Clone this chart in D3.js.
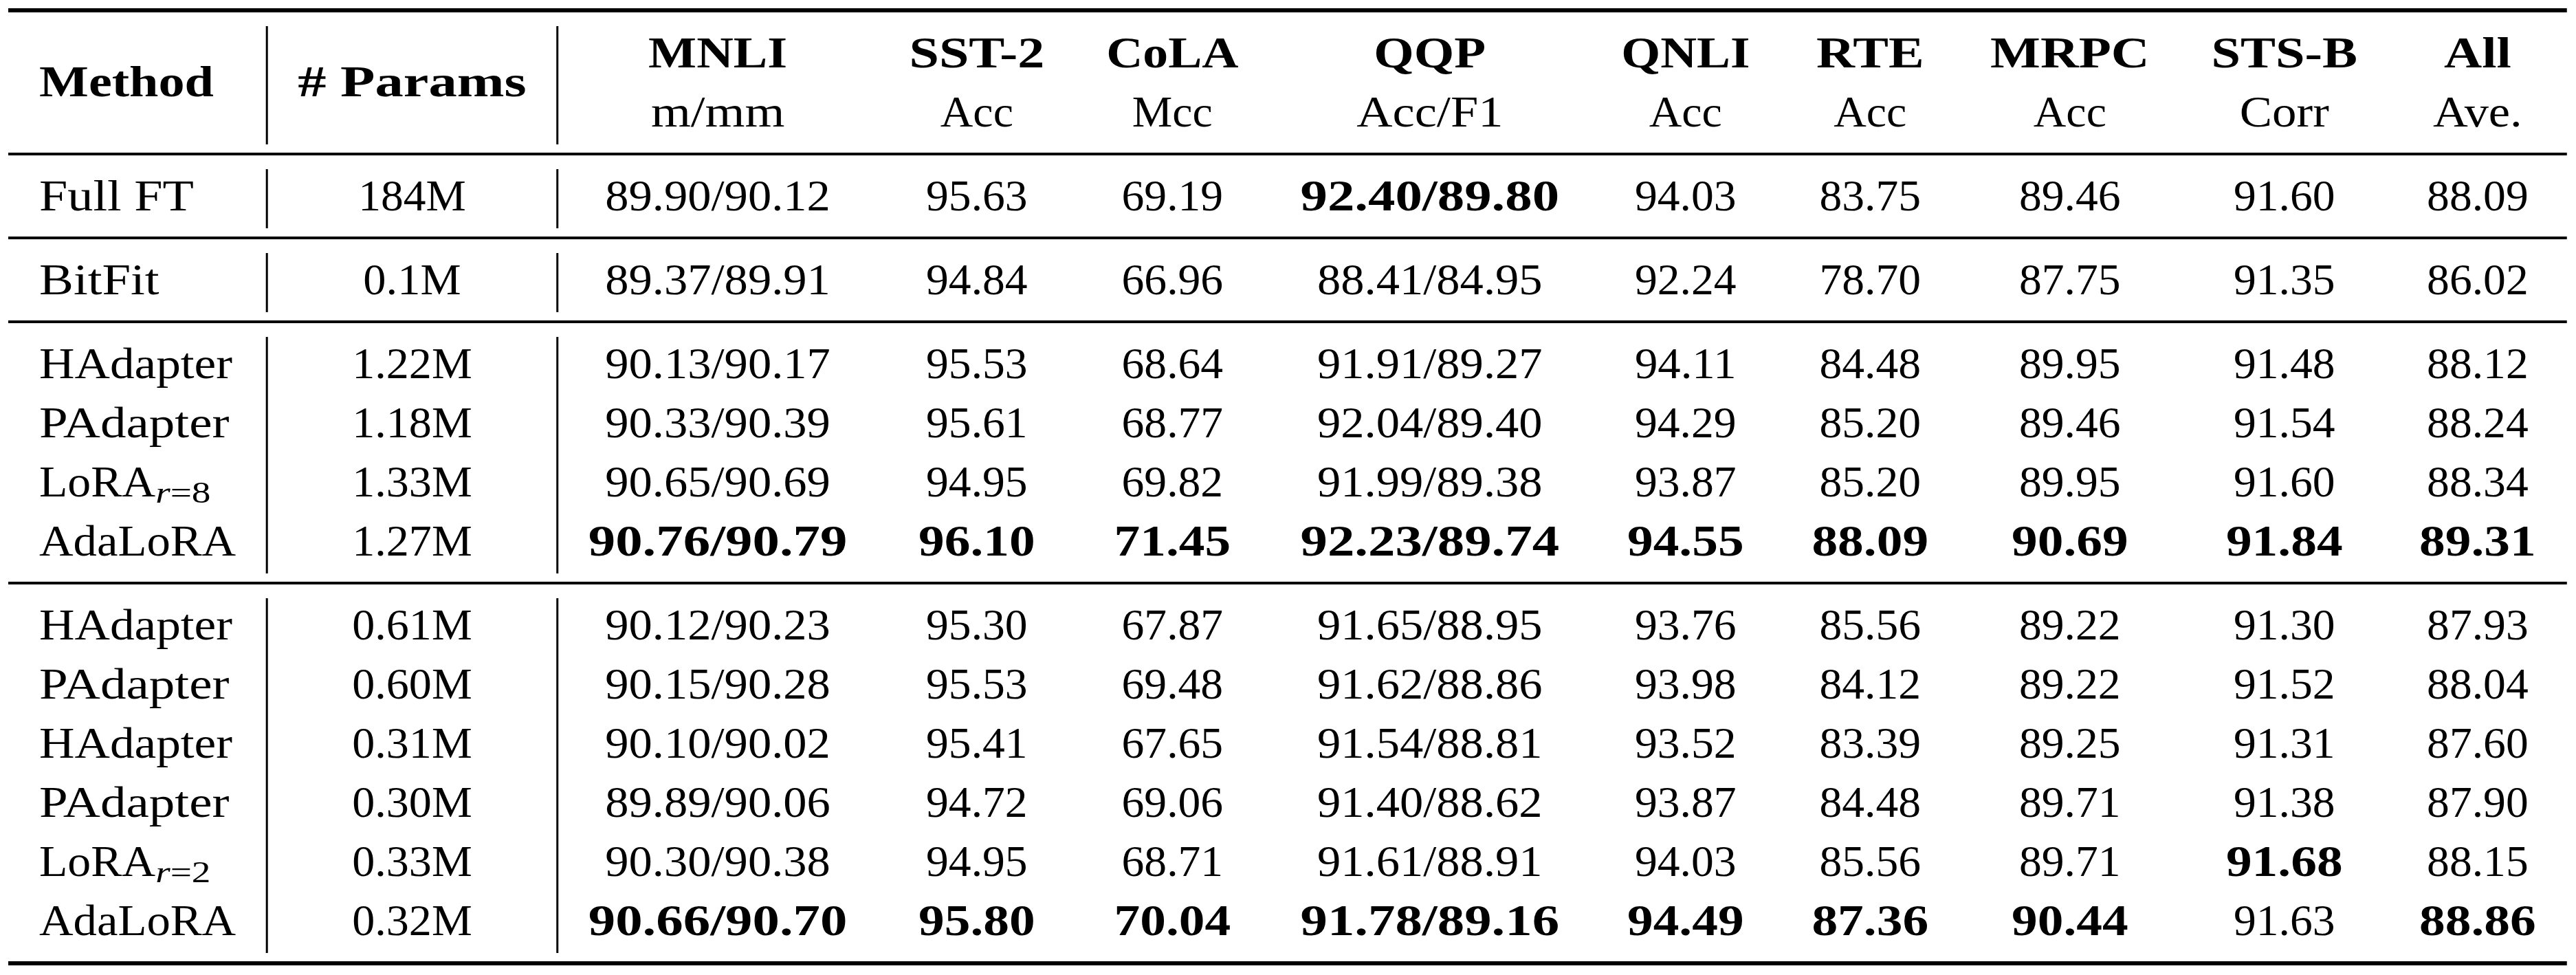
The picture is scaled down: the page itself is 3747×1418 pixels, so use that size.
<!DOCTYPE html>
<html>
<head>
<meta charset="utf-8">
<script src="https://cdn.jsdelivr.net/npm/d3@7"></script>
<style>
  body { margin: 0; background: #fff; }
  svg text { font-family: "Liberation Serif", "DejaVu Serif", serif; fill: #000; }
</style>
</head>
<body>
<div id="table"></div>
<script>
// ---- data ----
const methods = ["Full FT", "BitFit", "HAdapter", "PAdapter", "LoRA", "AdaLoRA",
                 "HAdapter", "PAdapter", "HAdapter", "PAdapter", "LoRA", "AdaLoRA"]
const methodSub = [null, null, null, null, "r=8", null, null, null, null, null, "r=2", null]
const params = ["184M", "0.1M", "1.22M", "1.18M", "1.33M", "1.27M",
                "0.61M", "0.60M", "0.31M", "0.30M", "0.33M", "0.32M"]

const mnli = [[89.90, 90.12], [89.37, 89.91], [90.13, 90.17], [90.33, 90.39], [90.65, 90.69], [90.76, 90.79],
              [90.12, 90.23], [90.15, 90.28], [90.10, 90.02], [89.89, 90.06], [90.30, 90.38], [90.66, 90.70]]
const sst2 = [95.63, 94.84, 95.53, 95.61, 94.95, 96.10, 95.30, 95.53, 95.41, 94.72, 94.95, 95.80]
const cola = [69.19, 66.96, 68.64, 68.77, 69.82, 71.45, 67.87, 69.48, 67.65, 69.06, 68.71, 70.04]
const qqp = [[92.40, 89.80], [88.41, 84.95], [91.91, 89.27], [92.04, 89.40], [91.99, 89.38], [92.23, 89.74],
             [91.65, 88.95], [91.62, 88.86], [91.54, 88.81], [91.40, 88.62], [91.61, 88.91], [91.78, 89.16]]
const qnli = [94.03, 92.24, 94.11, 94.29, 93.87, 94.55, 93.76, 93.98, 93.52, 93.87, 94.03, 94.49]
const rte = [83.75, 78.70, 84.48, 85.20, 85.20, 88.09, 85.56, 84.12, 83.39, 84.48, 85.56, 87.36]
const mrpc = [89.46, 87.75, 89.95, 89.46, 89.95, 90.69, 89.22, 89.22, 89.25, 89.71, 89.71, 90.44]
const stsb = [91.60, 91.35, 91.48, 91.54, 91.60, 91.84, 91.30, 91.52, 91.31, 91.38, 91.68, 91.63]
const avg = [88.09, 86.02, 88.12, 88.24, 88.34, 89.31, 87.93, 88.04, 87.60, 87.90, 88.15, 88.86]

const taskKeys = ["mnli", "sst2", "cola", "qqp", "qnli", "rte", "mrpc", "stsb", "avg"]
const taskNames = ["MNLI", "SST-2", "CoLA", "QQP", "QNLI", "RTE", "MRPC", "STS-B", "All"]
const metricNames = ["m/mm", "Acc", "Mcc", "Acc/F1", "Acc", "Acc", "Acc", "Corr", "Ave."]

// rows per block between the rules
const groupSizes = [1, 1, 4, 6]

// bold cells: [row, column]
const bestCells = [
  [0, "qqp"],
  [5, "mnli"], [5, "sst2"], [5, "cola"], [5, "qqp"], [5, "qnli"], [5, "rte"], [5, "mrpc"], [5, "stsb"], [5, "avg"],
  [10, "stsb"],
  [11, "mnli"], [11, "sst2"], [11, "cola"], [11, "qqp"], [11, "qnli"], [11, "rte"], [11, "mrpc"], [11, "avg"]
]

// ---- layout ----
const svgWidth = 3747
const svgHeight = 1418
const FS = 64.8          // em size used for widths (computer modern metrics)
const RENDER_FS = 63     // font size of the drawn glyphs
const pad = 45
const tableLeft = 12
const tableTop = 12
const heavy = 6, light = 4
const firstGap = 80, pitch = 86, lastGap = 38

// computer modern advance widths (em)
const CMR = {".": .2778, "/": .5, " ": .3333, "#": .8333, "M": .9167, "A": .75, "B": .7083, "C": .7222,
  "F": .6528, "H": .75, "L": .625, "P": .6806, "R": .7361, "T": .7222, "a": .5, "c": .4444, "d": .5556,
  "e": .4444, "i": .2778, "l": .2778, "m": .8333, "o": .5, "p": .5556, "r": .3917, "t": .3889, "u": .5556, "v": .5278}
const CMBX = {".": .3194, "/": .575, " ": .3833, "#": .9583, "-": .3833, "A": .8694, "B": .8181, "C": .8306,
  "E": .7556, "I": .4361, "L": .6917, "M": 1.0917, "N": .8972, "P": .7861, "Q": .8639, "R": .8625, "S": .6389,
  "T": .8, "a": .559, "d": .6389, "e": .5271, "h": .6389, "l": .3194, "m": .9583, "o": .575, "r": .4736,
  "s": .4542, "t": .4472}
const SUBW = {"r": .48, "=": .76}

function cmWidth(str, bold) {
  const table = bold ? CMBX : CMR
  let w = 0
  for (const ch of str) {
    if (/[0-9]/.test(ch)) w += bold ? .575 : .5
    else w += table[ch] || .5
  }
  return w * FS
}
function subWidth(str) {
  let w = 0
  for (const ch of str) w += SUBW[ch] || .53
  return w * FS * 0.7
}

const f2 = d3.format(".2f")
const pair = p => f2(p[0]) + "/" + f2(p[1])
const cellText = {
  mnli: mnli.map(pair), sst2: sst2.map(f2), cola: cola.map(f2), qqp: qqp.map(pair),
  qnli: qnli.map(f2), rte: rte.map(f2), mrpc: mrpc.map(f2), stsb: stsb.map(f2), avg: avg.map(f2)
}
const isBold = (r, k) => bestCells.some(c => c[0] === r && c[1] === k)

// column widths, like a tabular: widest entry + padding on both sides
const colKeys = ["method", "params"].concat(taskKeys)
const contentW = colKeys.map(k => {
  if (k === "method") {
    return d3.max([cmWidth("Method", true)].concat(methods.map((m, i) =>
      cmWidth(m, false) + (methodSub[i] ? subWidth(methodSub[i]) : 0))))
  }
  if (k === "params") {
    return d3.max([cmWidth("# Params", true)].concat(params.map(p => cmWidth(p, false))))
  }
  const j = taskKeys.indexOf(k)
  return d3.max([cmWidth(taskNames[j], true), cmWidth(metricNames[j], false)]
    .concat(cellText[k].map((t, r) => cmWidth(t, isBold(r, k)))))
})
const colW = contentW.map(w => w + 2 * pad)
const edges = [tableLeft].concat(Array.from(d3.cumsum(colW), v => tableLeft + v))
const tableRight = edges[edges.length - 1]

const xCenter = d3.scaleOrdinal().domain(colKeys).range(colKeys.map((k, i) => (edges[i] + edges[i + 1]) / 2))
const xLeft = d3.scaleOrdinal().domain(colKeys).range(colKeys.map((k, i) => edges[i] + pad))

// vertical layout: header block then groups
let y = tableTop + heavy
const headBase = [y + firstGap, y + firstGap + pitch]
let ruleTop = headBase[1] + lastGap
const bands = [{y0: y, y1: ruleTop}]
const rules = [{y: tableTop, w: heavy}, {y: ruleTop, w: light}]
y = ruleTop + light
const rowBase = []
groupSizes.forEach((n, gi) => {
  for (let i = 0; i < n; i++) rowBase.push(y + firstGap + i * pitch)
  ruleTop = rowBase[rowBase.length - 1] + lastGap
  bands.push({y0: y, y1: ruleTop})
  const last = gi === groupSizes.length - 1
  rules.push({y: ruleTop, w: last ? heavy : light})
  y = ruleTop + (last ? heavy : light)
})
const yRow = d3.scaleOrdinal().domain(d3.range(methods.length)).range(rowBase)

// ---- drawing ----
const svg = d3.select("#table").append("svg")
  .attr("width", svgWidth)
  .attr("height", svgHeight)
  .style("background", "#fff")

const g = svg.append("g")

function drawText(str, x, yb, bold, anchor) {
  const w = cmWidth(str, bold)
  const x0 = anchor === "middle" ? x - w / 2 : x
  g.append("text")
    .attr("x", x0)
    .attr("y", yb)
    .attr("font-size", RENDER_FS)
    .attr("font-weight", bold ? "bold" : "normal")
    .attr("textLength", w)
    .attr("lengthAdjust", "spacingAndGlyphs")
    .text(str)
  return x0 + w
}

// rules
g.selectAll("line.rule")
  .data(rules)
  .enter()
  .append("line")
  .attr("class", "rule")
  .attr("x1", tableLeft)
  .attr("x2", tableRight)
  .attr("y1", d => d.y + d.w / 2)
  .attr("y2", d => d.y + d.w / 2)
  .attr("stroke", "black")
  .attr("stroke-width", d => d.w)

// vertical separators after Method and # Params
const sepX = [edges[1], edges[2]]
bands.forEach(b => {
  sepX.forEach(sx => {
    g.append("line")
      .attr("x1", sx).attr("x2", sx)
      .attr("y1", b.y0 + 20).attr("y2", b.y1 - 12)
      .attr("stroke", "black")
      .attr("stroke-width", 3)
  })
})

// header
const headMid = (headBase[0] + headBase[1]) / 2 - 1
drawText("Method", xLeft("method"), headMid, true, "start")
drawText("# Params", xCenter("params"), headMid, true, "middle")
taskKeys.forEach((k, j) => {
  drawText(taskNames[j], xCenter(k), headBase[0], true, "middle")
  drawText(metricNames[j], xCenter(k), headBase[1], false, "middle")
})

// body
methods.forEach((m, r) => {
  const yb = yRow(r)
  const xEnd = drawText(m, xLeft("method"), yb, false, "start")
  if (methodSub[r]) {
    const s = methodSub[r]
    const t = g.append("text")
      .attr("x", xEnd)
      .attr("y", yb + 9)
      .attr("font-size", RENDER_FS * 0.7)
      .attr("textLength", subWidth(s))
      .attr("lengthAdjust", "spacingAndGlyphs")
    t.append("tspan").attr("font-style", "italic").text(s[0])
    t.append("tspan").text(s.slice(1))
  }
  drawText(params[r], xCenter("params"), yb, false, "middle")
  taskKeys.forEach(k => {
    drawText(cellText[k][r], xCenter(k), yb, isBold(r, k), "middle")
  })
})
</script>
</body>
</html>
